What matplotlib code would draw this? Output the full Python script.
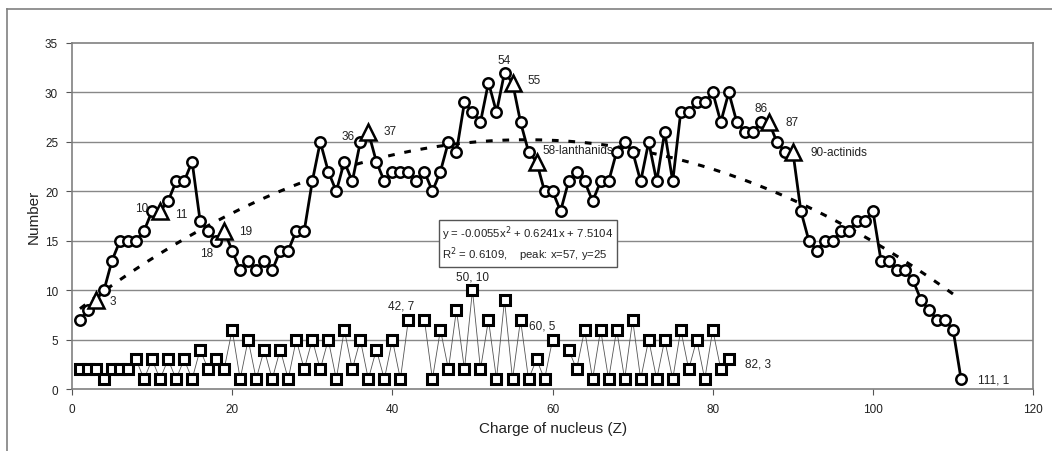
import numpy as np
import matplotlib
matplotlib.use("Agg")
import matplotlib.pyplot as plt
from matplotlib.lines import Line2D

plt.rcParams['font.family'] = ['Liberation Sans', 'DejaVu Sans']

# circles: Z = 1..111
z_all = list(range(1, 112))
n_all = [7, 8, 9, 10, 13, 15, 15, 15, 16, 18,
         18, 19, 21, 21, 23, 17, 16, 15, 16, 14,
         12, 13, 12, 13, 12, 14, 14, 16, 16, 21,
         25, 22, 20, 23, 21, 25, 26, 23, 21, 22,
         22, 22, 21, 22, 20, 22, 25, 24, 29, 28,
         27, 31, 28, 32, 31, 27, 24, 23, 20, 20,
         18, 21, 22, 21, 19, 21, 21, 24, 25, 24,
         21, 25, 21, 26, 21, 28, 28, 29, 29, 30,
         27, 30, 27, 26, 26, 27, 27, 25, 24, 24,
         18, 15, 14, 15, 15, 16, 16, 17, 17, 18,
         13, 13, 12, 12, 11, 9, 8, 7, 7, 6, 1]

# squares: Z = 1..82 (no value for 43 and 61)
z_sq = list(range(1, 83))
n_sq = [2, 2, 2, 1, 2, 2, 2, 3, 1, 3,
        1, 3, 1, 3, 1, 4, 2, 3, 2, 6,
        1, 5, 1, 4, 1, 4, 1, 5, 2, 5,
        2, 5, 1, 6, 2, 5, 1, 4, 1, 5,
        1, 7, None, 7, 1, 6, 2, 8, 2, 10,
        2, 7, 1, 9, 1, 7, 1, 3, 1, 5,
        None, 4, 2, 6, 1, 6, 1, 6, 1, 7,
        1, 5, 1, 5, 1, 6, 2, 5, 1, 6,
        2, 3]

# points drawn as triangles
z_tri = [3, 11, 19, 37, 55, 58, 87, 90]

trend_coef = [-0.0055, 0.6241, 7.5104]

n_tri = [n_all[z - 1] for z in z_tri]
circ_idx = [i for i, z in enumerate(z_all) if z not in z_tri]
sq_vals = np.array([np.nan if v is None else v for v in n_sq], dtype=float)

fig = plt.figure(figsize=(10.52, 4.52), dpi=100)
ax = fig.add_axes([0.0684, 0.137, 0.9137, 0.7657])

# frame around the chart area
fig.add_artist(Line2D([7 / 1052, 7 / 1052], [0, 1 - 10 / 452], color='#808080', lw=1.2))
fig.add_artist(Line2D([7 / 1052, 1], [1 - 10 / 452, 1 - 10 / 452], color='#808080', lw=1.2))

for yv in range(5, 35, 5):
    ax.axhline(yv, color='#888888', lw=1.0, zorder=0)

# trendline
xt = np.linspace(1, 110.5, 200)
ax.plot(xt, np.polyval(trend_coef, xt), color='black', lw=2.2, ls=(0, (2.2, 3.2)), zorder=2)

# squares series
ax.plot(z_sq, sq_vals, color='#555555', lw=0.6, zorder=3)
ax.plot(z_sq, sq_vals, ls='none', marker='s', ms=7, mfc='white', mec='black', mew=2.2, zorder=4)

# circles series
ax.plot(z_all, n_all, color='black', lw=2.0, zorder=5)
ax.plot(z_all, n_all, ls='none', marker='o', ms=7.5, mfc='white', mec='black', mew=1.8,
        markevery=circ_idx, zorder=6)
ax.plot(z_tri, n_tri, ls='none', marker='^', ms=11, mfc='white', mec='black', mew=1.8, zorder=7)

tc = '#222222'
fs = 8.5
labels = [
    (3, 9, '3', 10, -1, 'left'),
    (10, 18, '10', -3, 2, 'right'),
    (11, 18, '11', 11, -2, 'left'),
    (18, 15, '18', -2, -9, 'right'),
    (19, 16, '19', 11, 0, 'left'),
    (36, 25, '36', -4, 4, 'right'),
    (37, 26, '37', 11, 1, 'left'),
    (54, 32, '54', 0, 9, 'center'),
    (55, 31, '55', 11, 2, 'left'),
    (58, 24, '58-lanthanids', 4, 1, 'left'),
    (86, 27, '86', 0, 10, 'center'),
    (87, 27, '87', 12, 0, 'left'),
    (90, 24, '90-actinids', 13, 0, 'left'),
    (111, 1, '111, 1', 12, 0, 'left'),
    (42, 7, '42, 7', 4, 10, 'right'),
    (50, 10, '50, 10', 0, 10, 'center'),
    (60, 5, '60, 5', 2, 10, 'right'),
    (82, 3, '82, 3', 12, -3, 'left'),
]
for x, y, s, dx, dy, ha in labels:
    ax.annotate(s, (x, y), xytext=(dx, dy), textcoords='offset points',
                ha=ha, va='center', fontsize=fs, color=tc, zorder=8)

eq = 'y = -0.0055x$^2$ + 0.6241x + 7.5104\nR$^2$ = 0.6109,    peak: x=57, y=25'
ax.text(0.385, 0.478, eq, transform=ax.transAxes, ha='left', va='top', fontsize=8.2,
        color=tc, linespacing=1.2, zorder=9,
        bbox=dict(boxstyle='square,pad=0.3', fc='white', ec='#555555', lw=1.0))

ax.set_xlim(0, 120)
ax.set_ylim(0, 35)
ax.set_xticks(range(0, 121, 20))
ax.set_yticks(range(0, 36, 5))
ax.tick_params(labelsize=8.5, colors='#222222', length=4, color='#555555', pad=6)
for sp in ax.spines.values():
    sp.set_color('#808080')
    sp.set_linewidth(1.2)
ax.set_xlabel('Charge of nucleus (Z)', fontsize=11, color='#222222', labelpad=4)
ax.set_ylabel('Number', fontsize=11, color='#222222', labelpad=3)

fig.savefig('out.png', dpi=100)
